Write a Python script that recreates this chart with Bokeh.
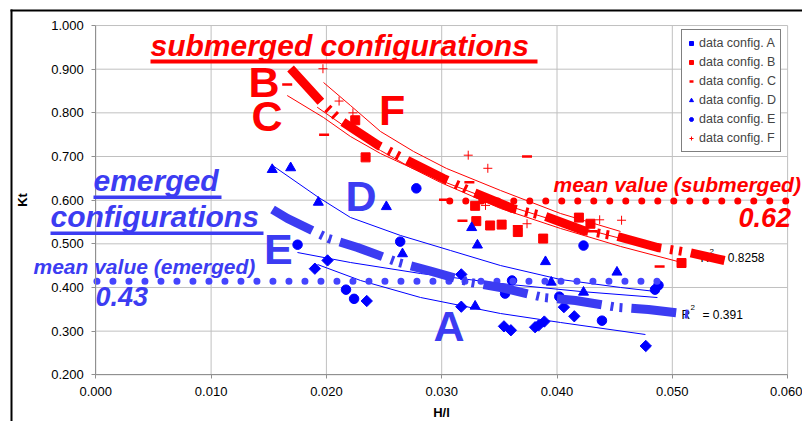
import numpy as np
from bokeh.plotting import figure
from bokeh.models import FixedTicker, PrintfTickFormatter, Label, BoxAnnotation, Legend, LegendItem
from bokeh.embed import file_html
from bokeh.resources import INLINE

# ---------------- data ----------------
a_x = [0.0190, 0.0201, 0.0235, 0.0317, 0.0317, 0.0354, 0.0360, 0.0381, 0.0384, 0.0389, 0.0406, 0.0415, 0.0477]
a_y = [0.443, 0.462, 0.369, 0.430, 0.356, 0.311, 0.302, 0.309, 0.313, 0.322, 0.355, 0.334, 0.266]

b_x = [0.0225, 0.0234, 0.0329, 0.0330, 0.0342, 0.0352, 0.0366, 0.0388, 0.0419, 0.0429, 0.0508]
b_y = [0.783, 0.698, 0.587, 0.552, 0.542, 0.544, 0.527, 0.512, 0.560, 0.546, 0.456]

c_x = [0.0166, 0.0198, 0.0302, 0.0318, 0.0324, 0.0366, 0.0374, 0.0431, 0.0489]
c_y = [0.865, 0.750, 0.601, 0.553, 0.641, 0.540, 0.700, 0.529, 0.448]

d_x = [0.0153, 0.0169, 0.0193, 0.0252, 0.0266, 0.0326, 0.0331, 0.0329, 0.0390, 0.0395, 0.0423, 0.0452]
d_y = [0.670, 0.674, 0.595, 0.585, 0.477, 0.537, 0.497, 0.357, 0.459, 0.412, 0.389, 0.435]

e_x = [0.0175, 0.0217, 0.0224, 0.0264, 0.0278, 0.0355, 0.0361, 0.0402, 0.0423, 0.0439, 0.0485, 0.0488]
e_y = [0.498, 0.395, 0.374, 0.505, 0.627, 0.386, 0.416, 0.379, 0.496, 0.324, 0.395, 0.405]

f_x = [0.0197, 0.0211, 0.0223, 0.0323, 0.0338, 0.0340, 0.0374, 0.0437, 0.0456]
f_y = [0.901, 0.827, 0.800, 0.703, 0.588, 0.673, 0.546, 0.555, 0.554]

# thin trend lines
trend_f_x = [0.01975, 0.02209, 0.02469, 0.02756, 0.03042, 0.03510, 0.04030, 0.04551]
trend_f_y = [0.8695, 0.8168, 0.7573, 0.7115, 0.6726, 0.6222, 0.5695, 0.5283]
trend_b_x = [0.01920, 0.02209, 0.02469, 0.02730, 0.02990, 0.03510, 0.04030, 0.04551, 0.05080]
trend_b_y = [0.8129, 0.7596, 0.7138, 0.6749, 0.6405, 0.5810, 0.5352, 0.4940, 0.4573]
trend_c_x = [0.01660, 0.01975, 0.02209, 0.02469, 0.02730, 0.02990, 0.03510, 0.04030, 0.04551, 0.04889]
trend_c_y = [0.8397, 0.7893, 0.7458, 0.7068, 0.6749, 0.6451, 0.5925, 0.5490, 0.5123, 0.4894]
trend_d_x = [0.01533, 0.01932, 0.02209, 0.02643, 0.03076, 0.03510, 0.04030, 0.04551, 0.04855]
trend_d_y = [0.6794, 0.6062, 0.5603, 0.5191, 0.4847, 0.4503, 0.4183, 0.4000, 0.3908]
trend_e_x = [0.01749, 0.02209, 0.02816, 0.03510, 0.04204, 0.04871]
trend_e_y = [0.4801, 0.4572, 0.4320, 0.4091, 0.3908, 0.3770]
trend_a_x = [0.01923, 0.02296, 0.02816, 0.03510, 0.04030, 0.04767]
trend_a_y = [0.4526, 0.4160, 0.3771, 0.3404, 0.3198, 0.2923]

# overall (thick) trend lines
sub_x = [0.01689, 0.01966, 0.02122, 0.02452, 0.02704, 0.03016, 0.03276, 0.03614, 0.03900, 0.04230, 0.04525, 0.04872, 0.05141, 0.05453]
sub_y = [0.9016, 0.8214, 0.7825, 0.7252, 0.6909, 0.6497, 0.6176, 0.5809, 0.5626, 0.5305, 0.5168, 0.4916, 0.4802, 0.4618]
em_x = [0.01533, 0.01663, 0.02018, 0.02270, 0.02625, 0.02886, 0.03250, 0.03510, 0.03883, 0.04160, 0.04533, 0.04793, 0.05158]
em_y = [0.5786, 0.5580, 0.5122, 0.4916, 0.4572, 0.4389, 0.4114, 0.4000, 0.3771, 0.3702, 0.3542, 0.3496, 0.3381]

# mean value lines
mean_sub_x = [0.0307, 0.0600]
mean_sub_y = [0.598, 0.598]
mean_em_x = [0.0001, 0.0488]
mean_em_y = [0.4144, 0.4144]

x_ticks = [0.0, 0.01, 0.02, 0.03, 0.04, 0.05, 0.06]
y_ticks = [0.2, 0.3, 0.4, 0.5, 0.6, 0.7, 0.8, 0.9, 1.0]
x_lo, x_hi = 0.0, 0.06
y_lo, y_hi = 0.2, 1.0

RED = "#ff0000"
BLUE = "#0000ff"
LBLUE = "#3c3cf2"
FONT = "Liberation Sans"


# canvas-pixel -> data helpers (used only to place annotations)
def X(px):
    return (px - 95.3) / 11530.0


def Y(py):
    return 0.2 + (374.3 - py) / 436.6


p = figure(width=802, height=421, x_range=(X(0), X(802)), y_range=(Y(421), Y(0)),
           output_backend="svg", toolbar_location=None,
           min_border_left=0, min_border_right=0, min_border_top=0, min_border_bottom=0)
p.background_fill_color = "white"
p.border_fill_color = "white"
p.outline_line_color = None
p.grid.visible = False

# outer chart-area frame (black, left and top edges)
p.add_layout(BoxAnnotation(left=X(10), right=X(12), top=Y(9), bottom=Y(421),
                           fill_color="black", fill_alpha=1, line_alpha=0, level="underlay"))
p.add_layout(BoxAnnotation(left=X(10), right=X(802), top=Y(9), bottom=Y(11),
                           fill_color="black", fill_alpha=1, line_alpha=0, level="underlay"))

# grid
p.segment(x0=x_ticks, y0=[y_lo] * len(x_ticks), x1=x_ticks, y1=[y_hi] * len(x_ticks),
          line_color="#c0c0c0", line_width=1)
p.segment(x0=[x_lo] * len(y_ticks), y0=y_ticks, x1=[x_hi] * len(y_ticks), y1=y_ticks,
          line_color="#c0c0c0", line_width=1)

for ax in (p.xaxis[0], p.yaxis[0]):
    ax.major_label_text_font = FONT
    ax.major_label_text_font_size = "13px"
    ax.major_label_text_color = "black"
    ax.axis_line_color = "#909090"
    ax.major_tick_line_color = "#909090"
    ax.major_tick_out = 4
    ax.major_tick_in = 0
    ax.minor_tick_line_color = None
    ax.axis_label_text_font = FONT
    ax.axis_label_text_font_size = "13px"
    ax.axis_label_text_font_style = "bold"
    ax.axis_label_text_color = "black"
    ax.formatter = PrintfTickFormatter(format="%.3f")
p.xaxis.ticker = FixedTicker(ticks=x_ticks)
p.yaxis.ticker = FixedTicker(ticks=y_ticks)
p.xaxis.bounds = (x_lo, x_hi)
p.yaxis.bounds = (y_lo, y_hi)
p.xaxis.fixed_location = y_lo
p.yaxis.fixed_location = x_lo
p.xaxis.axis_label = "H/l"
p.yaxis.axis_label = "Kt"
p.xaxis.major_label_standoff = 8
p.yaxis.major_label_standoff = 8
p.xaxis.axis_label_standoff = 6
p.yaxis.axis_label_standoff = 18


def lab(px, py, text, size, color, style="bold italic", level="annotation"):
    p.add_layout(Label(x=X(px), y=Y(py), text=text, text_font=FONT, text_font_size=size,
                       text_color=color, text_font_style=style, text_align="left",
                       text_baseline="middle", level=level))


# R^2 labels (under the thick lines)
lab(700, 257.7, "R", "12px", "black", "normal", "underlay")
lab(709, 251, "2", "8px", "black", "normal", "underlay")
lab(717, 257.7, "= 0.8258", "12px", "black", "normal", "underlay")
lab(681, 314, "R", "12px", "black", "normal", "underlay")
lab(690, 307, "2", "8px", "black", "normal", "underlay")
lab(702, 314, "= 0.391", "12px", "black", "normal", "underlay")

# thin trend lines
for xs, ys, col in [(trend_f_x, trend_f_y, RED), (trend_b_x, trend_b_y, RED), (trend_c_x, trend_c_y, RED),
                    (trend_d_x, trend_d_y, BLUE), (trend_e_x, trend_e_y, BLUE), (trend_a_x, trend_a_y, BLUE)]:
    p.line(xs, ys, line_color=col, line_width=1)

# data markers
ra = p.scatter(a_x, a_y, marker="square", angle=np.pi / 4, size=8, color=BLUE)
rb = p.scatter(b_x, b_y, marker="square", size=9, color=RED)
rc = p.scatter(c_x, c_y, marker="dash", size=10, line_color=RED, line_width=2.5)
rd = p.scatter(d_x, d_y, marker="triangle", size=10, color=BLUE)
re_ = p.scatter(e_x, e_y, marker="circle", size=9.5, color=BLUE)
rf = p.scatter(f_x, f_y, marker="cross", size=9, line_color=RED, line_width=1)

# mean value dotted lines
p.line(mean_sub_x, mean_sub_y, line_color=RED, line_width=7, line_dash="0 16", line_cap="round")
p.line(mean_em_x, mean_em_y, line_color="#4444ff", line_width=7, line_dash="0 16", line_cap="round")

# thick overall trend lines
p.line(sub_x, sub_y, line_color=RED, line_width=9, line_dash="45 9 3 6 3 9")
p.line(em_x, em_y, line_color=LBLUE, line_width=9, line_dash="45 9 3 6 3 9")

legend = Legend(items=[LegendItem(label="data config. A", renderers=[ra]),
                       LegendItem(label="data config. B", renderers=[rb]),
                       LegendItem(label="data config. C", renderers=[rc]),
                       LegendItem(label="data config. D", renderers=[rd]),
                       LegendItem(label="data config. E", renderers=[re_]),
                       LegendItem(label="data config. F", renderers=[rf])],
                location=(681, 269), margin=0, padding=4, spacing=1,
                glyph_width=10, glyph_height=18, label_height=18, label_standoff=3,
                label_text_font=FONT, label_text_font_size="12.5px",
                border_line_color="black", border_line_width=1,
                background_fill_color="white", background_fill_alpha=1)
p.add_layout(legend)

# big annotation texts
lab(150, 44.5, "submerged configurations", "30px", RED)
lab(93, 179.5, "emerged", "30px", LBLUE)
lab(50, 216.2, "configurations", "30px", LBLUE)
lab(33, 265.7, "mean value (emerged)", "21px", LBLUE)
lab(95, 295.5, "0.43", "27px", LBLUE)
lab(553, 184.3, "mean value (submerged)", "21px", RED)
lab(738, 217.2, "0.62", "27px", RED)

lab(248, 81.7, "B", "43px", RED, "bold")
lab(251, 115.8, "C", "43px", RED, "bold")
lab(378.5, 109.2, "F", "43px", RED, "bold")
lab(345, 195, "D", "43px", LBLUE, "bold")
lab(263.5, 248.8, "E", "43px", LBLUE, "bold")
lab(433, 325.8, "A", "43px", LBLUE, "bold")

# underlines
for (l, r, t, b, c) in [(150, 537, 59, 63, RED), (93, 221, 195, 198.5, LBLUE), (50, 263, 231, 234.5, LBLUE)]:
    p.add_layout(BoxAnnotation(left=X(l), right=X(r), top=Y(t), bottom=Y(b),
                               fill_color=c, fill_alpha=1, line_alpha=0))

open("out.html", "w").write(file_html(p, INLINE))
